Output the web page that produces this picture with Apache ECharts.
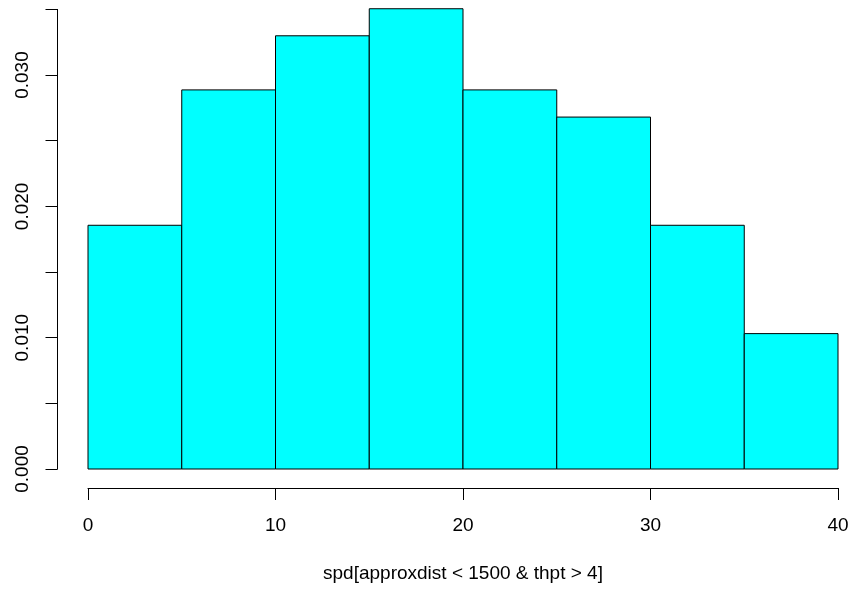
<!DOCTYPE html>
<html>
<head>
<meta charset="utf-8">
<script src="https://cdn.jsdelivr.net/npm/echarts@6/dist/echarts.min.js"></script>
<style>
  html, body { margin: 0; padding: 0; background: #fff; }
  #main { width: 854px; height: 591px; }
</style>
</head>
<body>
<div id="main"></div>
<script>
// 直方图数据 (density)
var binStart = [0, 5, 10, 15, 20, 25, 30, 35];
var binEnd = [5, 10, 15, 20, 25, 30, 35, 40];
var density = [0.01856, 0.02887, 0.03299, 0.03505, 0.02887, 0.02680, 0.01856, 0.01031];
var xTicks = [0, 10, 20, 30, 40];
var yTicks = ['0.000', '0.010', '0.020', '0.030'];
var xTitle = 'spd[approxdist < 1500 & thpt > 4]';

var myChart = echarts.init(document.getElementById('main'));

var data = [];
for (var i = 0; i < density.length; i++) {
	data.push([binStart[i], binEnd[i], density[i]]);
}

var option = {
	backgroundColor: '#ffffff',
	animation: false,
	textStyle: { fontFamily: 'Liberation Sans, Arial, sans-serif' },
	grid: { left: 88, top: 9.4, width: 750, height: 459.6, containLabel: false },
	xAxis: {
		type: 'value',
		min: 0,
		max: 40,
		interval: 10,
		offset: 19,
		name: xTitle,
		nameLocation: 'middle',
		nameGap: 76,
		nameTextStyle: { color: '#000', fontSize: 19 },
		axisLine: { onZero: false, lineStyle: { color: '#000', width: 1 } },
		axisTick: { length: 12, lineStyle: { color: '#000' } },
		axisLabel: {
			color: '#000',
			fontSize: 19,
			margin: 28,
			formatter: function (v) {
				return xTicks.indexOf(v) >= 0 ? String(v) : '';
			}
		},
		splitLine: { show: false }
	},
	yAxis: {
		type: 'value',
		min: 0,
		max: 0.035,
		interval: 0.005,
		offset: 30.5,
		axisLine: { show: true, onZero: false, lineStyle: { color: '#000', width: 1 } },
		axisTick: { show: true, length: 12, lineStyle: { color: '#000' } },
		axisLabel: {
			color: '#000',
			fontSize: 19,
			rotate: 90,
			margin: 25,
			formatter: function (v) {
				var s = v.toFixed(3);
				return yTicks.indexOf(s) >= 0 ? s : '';
			}
		},
		splitLine: { show: false }
	},
	series: [{
		type: 'custom',
		data: data,
		encode: { x: [0, 1], y: 2 },
		renderItem: function (params, api) {
			var p0 = api.coord([api.value(0), 0]);
			var p1 = api.coord([api.value(1), api.value(2)]);
			return {
				type: 'rect',
				shape: { x: p0[0], y: p1[1], width: p1[0] - p0[0], height: p0[1] - p1[1] },
				style: { fill: '#00ffff', stroke: '#000', lineWidth: 1 }
			};
		}
	}]
};

myChart.setOption(option);
</script>
</body>
</html>
